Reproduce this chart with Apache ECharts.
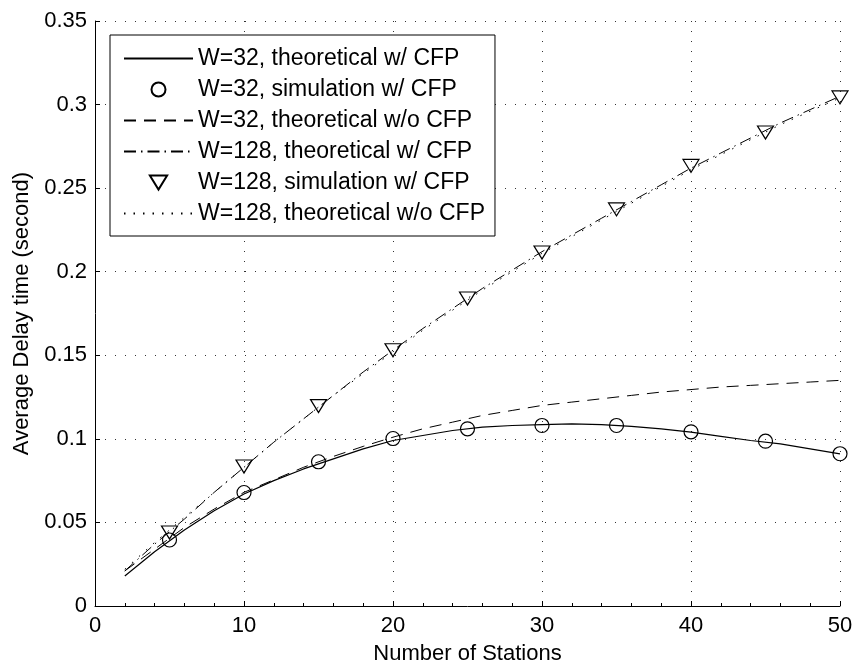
<!DOCTYPE html>
<html>
<head>
<meta charset="utf-8">
<script src="https://cdn.jsdelivr.net/npm/echarts@6/dist/echarts.min.js"></script>
<style>
html,body{margin:0;padding:0;background:#fff;}
#chart{width:856px;height:670px;}
</style>
</head>
<body>
<div id="chart"></div>
<script>
// ---- data ----
const stations = [2,4,6,8,10,12,14,16,18,20,22,24,26,28,30,32,34,36,38,40,42,44,46,48,50];
const simStations = [5,10,15,20,25,30,35,40,45,50];
const w32TheoCFP = [0.018,0.0325,0.0455,0.057,0.067,0.075,0.082,0.088,0.094,0.099,0.102,0.105,0.107,0.108,0.1085,0.109,0.1085,0.1075,0.106,0.104,0.1015,0.099,0.097,0.094,0.091];
const w32SimCFP = [0.0395,0.0679,0.0863,0.1002,0.106,0.108,0.108,0.1042,0.0986,0.0911];
const w32TheoNoCFP = [0.021,0.034,0.047,0.058,0.068,0.0755,0.083,0.0895,0.0955,0.101,0.106,0.110,0.114,0.117,0.120,0.122,0.124,0.126,0.128,0.1295,0.131,0.132,0.133,0.134,0.135];
const w128TheoCFP = [0.021,0.037,0.052,0.068,0.083,0.098,0.112,0.126,0.140,0.153,0.166,0.178,0.190,0.201,0.212,0.222,0.232,0.242,0.252,0.262,0.271,0.280,0.289,0.297,0.305];
const w128SimCFP = [0.044,0.0835,0.1196,0.153,0.184,0.2115,0.2373,0.2633,0.2833,0.3043];
const w128TheoNoCFP = [0.022,0.038,0.053,0.068,0.083,0.098,0.112,0.126,0.139,0.152,0.165,0.177,0.189,0.200,0.211,0.221,0.231,0.241,0.251,0.261,0.270,0.279,0.288,0.296,0.304];
const seriesNames = [
  'W=32, theoretical w/ CFP',
  'W=32, simulation w/ CFP',
  'W=32, theoretical w/o CFP',
  'W=128, theoretical w/ CFP',
  'W=128, simulation w/ CFP',
  'W=128, theoretical w/o CFP'
];
const lineSeriesIdx = [0, 2, 3, 5];
const xTickInterval = 10;
const yTickInterval = 0.05;

function pairs(xs, ys){ return xs.map((x,i)=>[x, ys[i]]); }

const FONT = 'Liberation Sans, Arial, Helvetica, sans-serif';
const chart = echarts.init(document.getElementById('chart'), null, {renderer:'canvas'});
const lineBase = {type:'line', symbol:'none', showSymbol:false, z:3};
const hollow = {color:'rgba(0,0,0,0)', borderColor:'#000', borderWidth:1.2, opacity:1};

const legendData = seriesNames.map((n, i) => lineSeriesIdx.indexOf(i) >= 0
  ? {name:n, itemStyle:{opacity:0}}
  : {name:n});

chart.setOption({
  animation:false,
  backgroundColor:'#fff',
  textStyle:{fontFamily:FONT},
  grid:{left:95, right:16, top:21, bottom:61, containLabel:false},
  legend:{
    orient:'vertical', left:110, top:35,
    padding:[12,10,11,13],
    itemWidth:69, itemHeight:14, itemGap:8,
    backgroundColor:'#fff', borderColor:'#000', borderWidth:1,
    textStyle:{fontFamily:FONT, fontSize:23, color:'#000', lineHeight:22},
    data:legendData,
    z:10
  },
  xAxis:{
    type:'value', min:0, max:50, interval:xTickInterval,
    name:'Number of Stations', nameLocation:'middle', nameGap:37,
    nameTextStyle:{fontFamily:FONT, fontSize:22, color:'#000'},
    axisLine:{show:true, onZero:false, lineStyle:{color:'#000', width:1}},
    axisTick:{show:true, inside:true, length:5, lineStyle:{color:'#000'}},
    minorTick:{show:true, splitNumber:5, length:3, lineStyle:{color:'#000'}},
    axisLabel:{fontFamily:FONT, fontSize:22, color:'#000', margin:9},
    splitLine:{show:true, lineStyle:{color:'#333', width:1, type:[1,9]}}
  },
  yAxis:{
    type:'value', min:0, max:0.35, interval:yTickInterval,
    name:'Average Delay time (second)', nameLocation:'middle', nameGap:62,
    nameTextStyle:{fontFamily:FONT, fontSize:22, color:'#000'},
    axisLine:{show:true, onZero:false, lineStyle:{color:'#000', width:1}},
    axisTick:{show:true, inside:true, length:5, lineStyle:{color:'#000'}},
    axisLabel:{fontFamily:FONT, fontSize:22, color:'#000', margin:8},
    splitLine:{show:true, lineStyle:{color:'#333', width:1, type:[1,9]}}
  },
  series:[
    Object.assign({}, lineBase, {name:seriesNames[0], data:pairs(stations, w32TheoCFP),
      lineStyle:{color:'#000', width:1.2, type:'solid'}, itemStyle:{color:'#000'}}),
    {type:'scatter', name:seriesNames[1], data:pairs(simStations, w32SimCFP),
      symbol:'circle', symbolSize:14, itemStyle:hollow, z:4},
    Object.assign({}, lineBase, {name:seriesNames[2], data:pairs(stations, w32TheoNoCFP),
      lineStyle:{color:'#000', width:1, type:[12,8]}, itemStyle:{color:'#000'}}),
    Object.assign({}, lineBase, {name:seriesNames[3], data:pairs(stations, w128TheoCFP),
      lineStyle:{color:'#000', width:1, type:[12,5,1.5,5]}, itemStyle:{color:'#000'}}),
    {type:'scatter', name:seriesNames[4], data:pairs(simStations, w128SimCFP),
      symbol:'path://M0,0L16,0L8,13Z', symbolSize:[16,13], symbolKeepAspect:false, itemStyle:hollow, z:4},
    Object.assign({}, lineBase, {name:seriesNames[5], data:pairs(stations, w128TheoNoCFP),
      lineStyle:{color:'#000', width:1, type:[1.5,8]}, itemStyle:{color:'#000'}})
  ]
});
</script>
</body>
</html>
